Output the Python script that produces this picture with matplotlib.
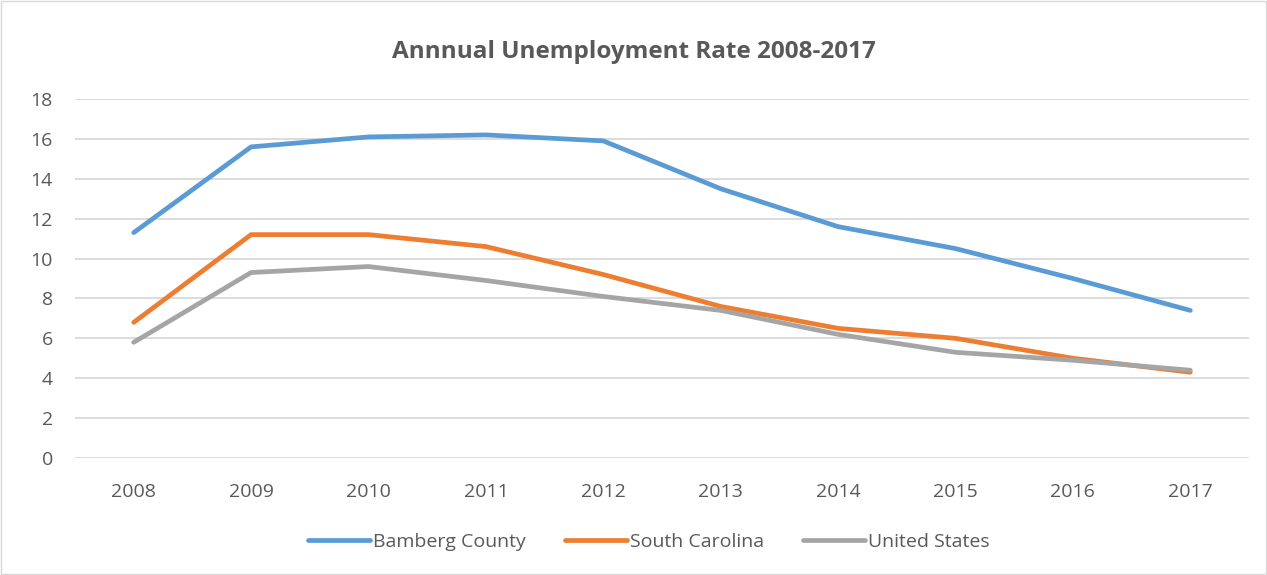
import matplotlib
matplotlib.use("Agg")
import matplotlib.pyplot as plt
from matplotlib.patches import Rectangle

# data
years = ["2008", "2009", "2010", "2011", "2012", "2013", "2014", "2015", "2016", "2017"]
bamberg = [11.3, 15.6, 16.1, 16.2, 15.9, 13.5, 11.6, 10.5, 9.0, 7.4]
south_carolina = [6.8, 11.2, 11.2, 10.6, 9.2, 7.6, 6.5, 6.0, 5.0, 4.3]
united_states = [5.8, 9.3, 9.6, 8.9, 8.1, 7.4, 6.2, 5.3, 4.9, 4.4]
yticks = list(range(0, 20, 2))

plt.rcParams['font.family'] = ['Open Sans', 'DejaVu Sans']
txt = '#595959'

fig = plt.figure(figsize=(12.67, 5.75), dpi=100)
ax = fig.add_axes([0.0592, 0.2035, 0.9266, 0.6243])

x = range(len(years))
ax.plot(x, bamberg, color='#5B9BD5', lw=3.4, solid_capstyle='round', label='Bamberg County')
ax.plot(x, south_carolina, color='#ED7D31', lw=3.4, solid_capstyle='round', label='South Carolina')
ax.plot(x, united_states, color='#A5A5A5', lw=3.4, solid_capstyle='round', label='United States')

ax.set_xlim(-0.5, len(years) - 0.5)
ax.set_ylim(0, 18)
ax.set_yticks(yticks)
ax.set_xticks(list(x))
ax.set_xticklabels(years)
ax.grid(axis='y', color='#D9D9D9', lw=1.3)
ax.set_axisbelow(True)
for s in ax.spines.values():
    s.set_visible(False)
ax.tick_params(length=0, labelsize=14, colors=txt)
ax.tick_params(axis='y', pad=16)
ax.tick_params(axis='x', pad=18)

fig.text(0.5, 0.91, 'Annnual Unemployment Rate 2008-2017', ha='center', va='center',
         fontsize=17.5, fontweight='bold', color=txt)

fig.legend(loc='center', bbox_to_anchor=(0.512, 0.057), ncol=3, frameon=False,
           fontsize=14, labelcolor=txt, handlelength=3.2, handletextpad=0.15,
           columnspacing=2.0)

fig.patches.append(Rectangle((0.001, 0.001), 0.998, 0.998, transform=fig.transFigure,
                             fill=False, edgecolor='#D9D9D9', lw=1))

fig.savefig('out.png', dpi=100)
